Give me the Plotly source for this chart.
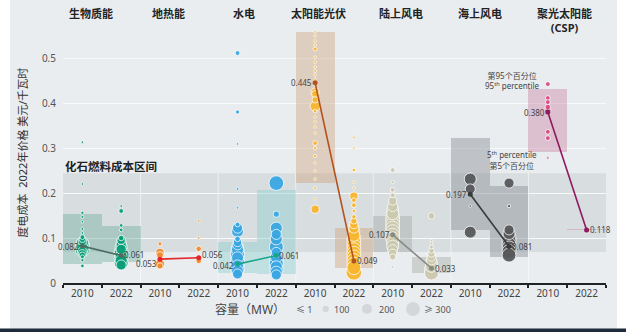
import plotly.graph_objects as go

# ---------------- data ----------------
techs = ["生物质能", "地热能", "水电", "太阳能光伏", "陆上风电", "海上风电", "聚光太阳能<br>(CSP)"]
years = ["2010", "2022"]

avg_2010 = [0.082, 0.053, 0.042, 0.445, 0.107, 0.197, 0.380]
avg_2022 = [0.061, 0.056, 0.061, 0.049, 0.033, 0.081, 0.118]

# 5th / 95th percentile per category (2010, 2022 for each technology)
p95 = [0.153, 0.127, None, None, 0.091, 0.207, 0.558, 0.122, 0.149, 0.058, 0.322, 0.216, 0.431, 0.119]
p5 = [0.042, 0.047, None, None, 0.022, 0.020, 0.222, 0.033, 0.069, 0.022, 0.118, 0.058, 0.291, 0.117]

fossil_low = 0.069
fossil_high = 0.244

# individual projects: LCOE (USD/kWh) and capacity (MW)
bio10_cost = [0.313, 0.220, 0.156, 0.147, 0.136, 0.120, 0.111, 0.102, 0.097, 0.093, 0.089, 0.085, 0.081, 0.077, 0.073, 0.069, 0.065, 0.062, 0.058, 0.051, 0.038]
bio10_mw = [1, 1, 20, 10, 1, 10, 5, 60, 100, 150, 250, 300, 300, 250, 300, 200, 150, 100, 40, 20, 30]
bio22_cost = [0.171, 0.160, 0.128, 0.118, 0.100, 0.095, 0.090, 0.085, 0.080, 0.075, 0.070, 0.065, 0.060, 0.055, 0.050, 0.045, 0.040]
bio22_mw = [5, 60, 30, 30, 80, 150, 200, 200, 250, 200, 300, 300, 250, 300, 250, 300, 200]
geo10_cost = [0.087, 0.068, 0.062, 0.042, 0.038]
geo10_mw = [40, 150, 120, 180, 100]
geo22_cost = [0.138, 0.100, 0.076, 0.053, 0.049]
geo22_mw = [1, 1, 80, 100, 80]
hyd10_cost = [0.511, 0.380, 0.309, 0.209, 0.167, 0.130, 0.122, 0.115, 0.098, 0.090, 0.085, 0.080, 0.074, 0.068, 0.062, 0.056, 0.050, 0.044, 0.038, 0.032, 0.026, 0.020]
hyd10_mw = [60, 40, 1, 10, 3, 60, 200, 250, 80, 150, 200, 250, 250, 300, 300, 250, 300, 300, 250, 300, 250, 200]
hyd22_cost = [0.222, 0.153, 0.122, 0.108, 0.098, 0.080, 0.068, 0.058, 0.050, 0.043, 0.036, 0.030, 0.024, 0.018]
hyd22_mw = [320, 100, 250, 200, 250, 300, 200, 250, 300, 300, 250, 300, 250, 200]
pv10_cost = [0.558, 0.549, 0.538, 0.529, 0.520, 0.502, 0.491, 0.480, 0.471, 0.462, 0.452, 0.440, 0.424, 0.420, 0.407, 0.393, 0.382, 0.369, 0.358, 0.347, 0.333, 0.311, 0.300, 0.282, 0.267, 0.249, 0.231, 0.211, 0.187, 0.164]
pv10_mw = [1, 1, 3, 5, 40, 5, 10, 5, 10, 5, 3, 3, 150, 120, 100, 200, 30, 5, 5, 5, 3, 60, 20, 20, 3, 3, 3, 10, 3, 150]
pv22_cost = [0.324, 0.300, 0.251, 0.224, 0.211, 0.193, 0.184, 0.173, 0.160, 0.147, 0.138, 0.130, 0.122, 0.114, 0.106, 0.098, 0.090, 0.082, 0.074, 0.066, 0.058, 0.050, 0.042, 0.034, 0.024]
pv22_mw = [1, 3, 30, 3, 5, 150, 60, 60, 30, 50, 100, 150, 200, 250, 250, 300, 300, 300, 300, 300, 300, 300, 300, 300, 350]
on10_cost = [0.251, 0.224, 0.207, 0.195, 0.182, 0.170, 0.162, 0.154, 0.146, 0.138, 0.130, 0.122, 0.114, 0.106, 0.098, 0.090, 0.082, 0.074, 0.066, 0.058, 0.036]
on10_mw = [60, 20, 60, 60, 150, 200, 250, 250, 300, 300, 300, 300, 300, 300, 300, 250, 250, 200, 150, 100, 3]
on22_cost = [0.149, 0.094, 0.088, 0.080, 0.072, 0.065, 0.058, 0.051, 0.044, 0.037, 0.030, 0.022]
on22_mw = [110, 5, 15, 40, 80, 120, 160, 200, 250, 250, 300, 300]
off10_cost = [0.231, 0.209, 0.171, 0.113]
off10_mw = [250, 200, 3, 250]
off22_cost = [0.222, 0.171, 0.118, 0.110, 0.102, 0.094, 0.086, 0.078, 0.070, 0.062]
off22_mw = [200, 20, 200, 250, 300, 300, 300, 300, 300, 300]
csp10_cost = [0.442, 0.411, 0.402, 0.391, 0.384, 0.336, 0.322, 0.278]
csp10_mw = [60, 60, 60, 80, 100, 60, 60, 3]
csp22_cost = []
csp22_mw = []

legend_caps = [100, 200, 300]
legend_labels = ["≤ 1", "100", "200", "≥ 300"]

# ---------------- styles ----------------
bubble_colors = ["#0a9e78", "#f28c2e", "#3aa7e3", "#f8b630", "#cbc9ae", "#58595b", "#d84b83"]
box_colors = ["rgba(90,160,140,0.35)", "rgba(0,0,0,0)", "rgba(120,200,200,0.35)",
              "rgba(205,160,120,0.40)", "rgba(160,168,160,0.40)", "rgba(140,145,150,0.45)",
              "rgba(205,130,165,0.42)"]
avg_colors = ["#4d6d63", "#e3262b", "#17a589", "#b4521e", "#8a8a85", "#3a3a3a", "#8e1a5c"]
BG = "#e9edf0"
FONT = "Noto Sans, Noto Sans CJK SC, sans-serif"

def size_of(mw):
    return 2.5 + 0.038 * mw

projects = [(bio10_cost, bio10_mw), (bio22_cost, bio22_mw), (geo10_cost, geo10_mw), (geo22_cost, geo22_mw),
            (hyd10_cost, hyd10_mw), (hyd22_cost, hyd22_mw), (pv10_cost, pv10_mw), (pv22_cost, pv22_mw),
            (on10_cost, on10_mw), (on22_cost, on22_mw), (off10_cost, off10_mw), (off22_cost, off22_mw),
            (csp10_cost, csp10_mw), (csp22_cost, csp22_mw)]

# geometry
ML, MR, MT, MB = 63, 20, 22, 49
W, H = 626, 332
PW = W - ML - MR
PH = H - MT - MB
STEP = PW / 14.0

def px_x(px):  # pixel -> data x
    return (px - ML) / STEP - 0.5

def px_px(px):  # pixel -> paper x
    return (px - ML) / PW

def py_py(py):  # pixel -> paper y
    return (H - MB - py) / PH

YMAX = 0.58

fig = go.Figure()

# percentile boxes
cats = list(range(14))
bx, bbase, bh, bcol = [], [], [], []
for i in cats:
    if p95[i] is None:
        continue
    bx.append(i)
    bbase.append(p5[i])
    bh.append(p95[i] - p5[i])
    bcol.append(box_colors[i // 2])
fig.add_trace(go.Bar(x=bx, y=bh, base=bbase, width=1.0, marker=dict(color=bcol, line=dict(width=0)),
                     hoverinfo="skip", showlegend=False))

# project bubbles
for i, (cost, mw) in enumerate(projects):
    if not cost:
        continue
    order = sorted(range(len(cost)), key=lambda k: -mw[k])
    fig.add_trace(go.Scatter(
        x=[i] * len(cost), y=[cost[k] for k in order], mode="markers",
        marker=dict(size=[size_of(mw[k]) for k in order], color=bubble_colors[i // 2], opacity=0.95,
                    line=dict(color="white", width=0.8)),
        hoverinfo="skip", showlegend=False))

# weighted averages
annotations = []
lab_dy_2010 = [0, -0.009, -0.004, 0, 0, 0, 0]
lab_dy_2022 = [0.003, 0.008, 0, 0, 0, 0, 0]
for g in range(7):
    fig.add_trace(go.Scatter(
        x=[2 * g, 2 * g + 1], y=[avg_2010[g], avg_2022[g]], mode="lines+markers",
        line=dict(color=avg_colors[g], width=1.6), marker=dict(size=5, color=avg_colors[g]),
        hoverinfo="skip", showlegend=False))
    annotations.append(dict(x=2 * g - 0.03, y=avg_2010[g] + lab_dy_2010[g], xref="x", yref="y",
                            text=f"{avg_2010[g]:.3f}", showarrow=False, xanchor="right", yanchor="middle",
                            font=dict(size=8, color="#444", family=FONT)))
    annotations.append(dict(x=2 * g + 1.03, y=avg_2022[g] + lab_dy_2022[g], xref="x", yref="y",
                            text=f"{avg_2022[g]:.3f}", showarrow=False, xanchor="left", yanchor="middle",
                            font=dict(size=8, color="#444", family=FONT)))

# size legend (paper coordinates, below the axis)
leg_py = 309
annotations.append(dict(x=px_px(249.5), y=py_py(leg_py), xref="paper", yref="paper", text="容量（MW）",
                        xanchor="center", yanchor="middle",
                        showarrow=False, font=dict(size=12, color="#444", family=FONT)))
for px, lab in zip([304, 341, 386, 437], legend_labels):
    annotations.append(dict(x=px_px(px), y=py_py(leg_py), xref="paper", yref="paper", text=lab,
                            xanchor="center", yanchor="middle",
                            showarrow=False, font=dict(size=9, color="#555", family=FONT)))

shapes = [
    dict(type="rect", xref="paper", yref="y", x0=0, x1=1, y0=fossil_low, y1=fossil_high,
         fillcolor="#d8dde0", line=dict(width=0), layer="below"),
]
for cx, cap in zip([325.7, 367, 413], legend_caps):
    r = size_of(cap) / 2
    shapes.append(dict(type="circle", xref="paper", yref="paper",
                       x0=px_px(cx - r), x1=px_px(cx + r), y0=py_py(leg_py + r), y1=py_py(leg_py - r),
                       fillcolor="#d3d7da", line=dict(width=0), layer="above"))

# technology headers
header_px = [90.5, 168.5, 244, 318, 401, 479.5, 564]
for t, px in zip(techs, header_px):
    annotations.append(dict(x=px_px(px), y=py_py(4), xref="paper", yref="paper", text=f"<b>{t}</b>",
                            showarrow=False, xanchor="center", yanchor="top",
                            font=dict(size=11, color="#222", family=FONT)))

# fossil fuel title
annotations.append(dict(x=-0.5, y=0.26, xref="x", yref="y", text="<b>化石燃料成本区间</b>", showarrow=False,
                        xanchor="left", yanchor="middle", font=dict(size=11.5, color="#222", family=FONT)))

# percentile notes
annotations.append(dict(x=px_x(512), y=0.449, xref="x", yref="y",
                        text="第95个百分位<br>95<sup>th</sup> percentile", showarrow=False,
                        xanchor="center", yanchor="middle",
                        font=dict(size=8, color="#444", family=FONT)))
annotations.append(dict(x=px_x(512), y=0.273, xref="x", yref="y",
                        text="5<sup>th</sup> percentile<br>第5个百分位", showarrow=False,
                        xanchor="center", yanchor="middle",
                        font=dict(size=8, color="#444", family=FONT)))

# y-axis title
annotations.append(dict(x=px_px(22), y=0.5, xref="paper", yref="paper",
                        text="度电成本  2022年价格 美元/千瓦时", textangle=-90, showarrow=False,
                        xanchor="center", yanchor="middle",
                        font=dict(size=11, color="#333", family=FONT)))

for b in [1.5, 3.5, 5.5, 7.5, 9.5, 11.5]:
    shapes.append(dict(type="line", xref="x", yref="y", x0=b, x1=b, y0=0, y1=fossil_high,
                       line=dict(color="rgba(255,255,255,0.55)", width=1), layer="below"))
# page frame
shapes.append(dict(type="rect", xref="paper", yref="paper", x0=px_px(617), x1=px_px(626), y0=py_py(332), y1=py_py(0),
                   fillcolor="white", line=dict(width=0), layer="below"))
shapes.append(dict(type="rect", xref="paper", yref="paper", x0=px_px(0), x1=px_px(10), y0=py_py(332), y1=py_py(0),
                   fillcolor="white", line=dict(width=0), layer="below"))
shapes.append(dict(type="rect", xref="paper", yref="paper", x0=px_px(0), x1=px_px(626), y0=py_py(332), y1=py_py(328.5),
                   fillcolor="#1f2a3a", line=dict(width=0), layer="above"))

fig.update_layout(
    width=W, height=H,
    margin=dict(l=ML, r=MR, t=MT, b=MB, pad=0),
    paper_bgcolor=BG, plot_bgcolor=BG,
    font=dict(family=FONT, color="#444"),
    barmode="overlay", bargap=0,
    annotations=annotations, shapes=shapes,
    xaxis=dict(range=[-0.5, 13.5], tickmode="array", tickvals=cats, ticktext=years * 7,
               ticks="", showgrid=False, zeroline=False, showline=True, linecolor="#222", linewidth=1.5,
               tickfont=dict(size=10, color="#444"), fixedrange=True,
               minor=dict(tickmode="array", tickvals=[i + 0.5 for i in range(-1, 14)], ticks="outside",
                          ticklen=3, tickcolor="#222", tickwidth=1.5, showgrid=False)),
    yaxis=dict(range=[0, YMAX], tickmode="array", tickvals=[0, 0.1, 0.2, 0.3, 0.4, 0.5],
               ticktext=["0", "0.1", "0.2", "0.3", "0.4", "0.5"], showgrid=True, gridcolor="#f7f9fa",
               gridwidth=1, zeroline=False, showline=False, ticks="", ticklabelstandoff=6,
               tickfont=dict(size=10, color="#555"), fixedrange=True),
)

fig.write_html("out.html")
